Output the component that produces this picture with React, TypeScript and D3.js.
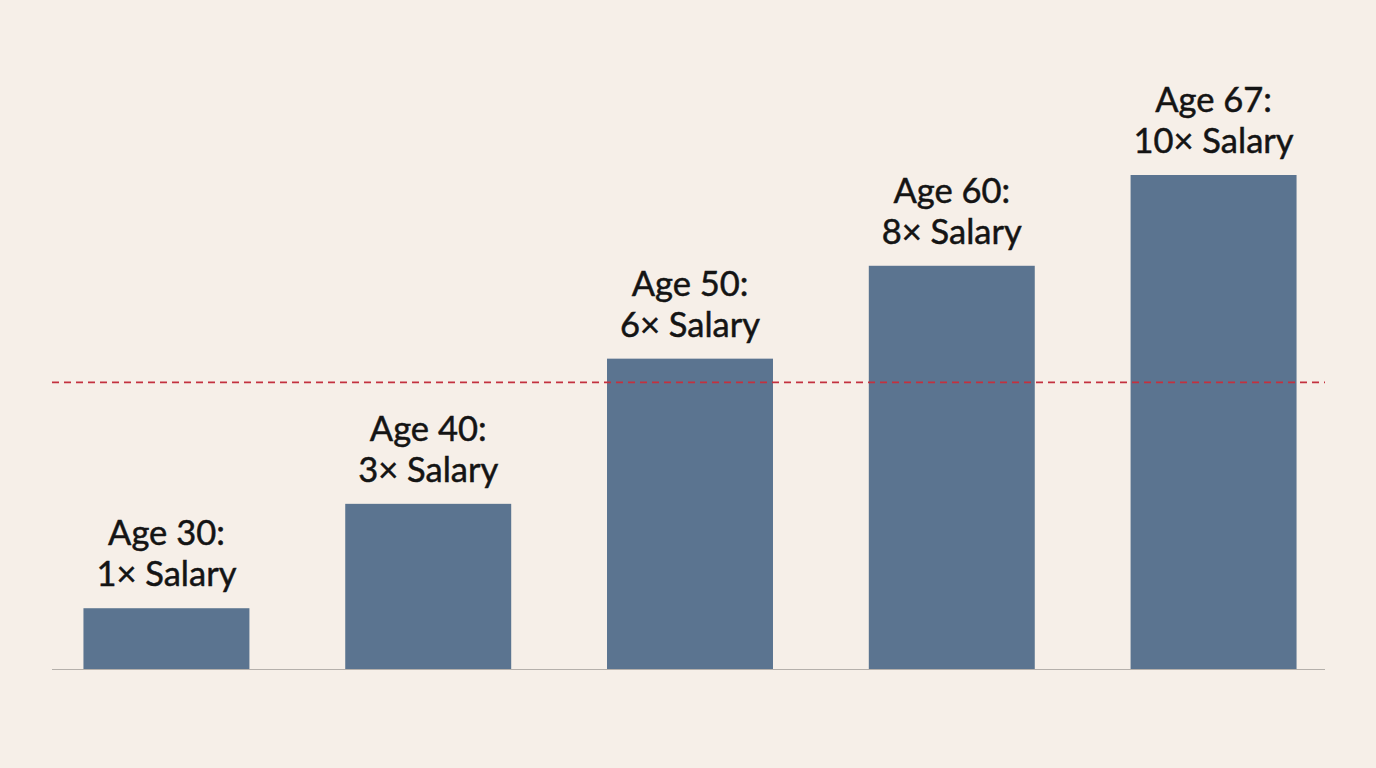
import { useEffect, useRef } from "react"
import * as d3 from "d3"

const ages = ["Age 30", "Age 40", "Age 50", "Age 60", "Age 67"]
const multiples = [1, 3, 6, 8, 10]
const targetLine = 5.5

const WIDTH = 1376
const HEIGHT = 768
const AXIS = { left: 52, right: 1325, base: 669, top: 175 }

export default function App() {
  const svgRef = useRef<SVGSVGElement>(null)

  useEffect(() => {
    document.body.style.margin = "0"
    if (!svgRef.current) return
    const svg = d3.select(svgRef.current)
    svg.selectAll("*").remove()

    svg.append("rect").attr("width", WIDTH).attr("height", HEIGHT).attr("fill", "#f6efe8")

    const x = d3
      .scaleBand<string>()
      .domain(ages)
      .range([AXIS.left + 2, AXIS.right + 1])
      .paddingInner(0.366)
      .paddingOuter(0.1125)

    // bars grow a bit faster than linear in the picture
    const y = d3.scalePow().exponent(0.91).domain([0, 10]).range([AXIS.base, AXIS.top])

    const rows = ages.map((a, i) => ({ age: a, m: multiples[i] }))

    svg
      .append("g")
      .selectAll("rect")
      .data(rows)
      .join("rect")
      .attr("x", (d) => x(d.age)!)
      .attr("y", (d) => y(d.m))
      .attr("width", x.bandwidth())
      .attr("height", (d) => AXIS.base - y(d.m))
      .attr("fill", "#5b7490")

    // baseline
    svg
      .append("line")
      .attr("x1", AXIS.left)
      .attr("x2", AXIS.right)
      .attr("y1", AXIS.base + 0.5)
      .attr("y2", AXIS.base + 0.5)
      .attr("stroke", "#b5b0ab")
      .attr("stroke-width", 1.2)

    // dashed target line
    svg
      .append("line")
      .attr("x1", AXIS.left)
      .attr("x2", AXIS.right)
      .attr("y1", y(targetLine))
      .attr("y2", y(targetLine))
      .attr("stroke", "#c3313f")
      .attr("stroke-width", 1.8)
      .attr("stroke-dasharray", "7,5")

    // labels
    const labels = svg
      .append("g")
      .selectAll("text")
      .data(rows)
      .join("text")
      .attr("text-anchor", "middle")
      .attr("font-family", "Lato, 'Noto Sans', sans-serif")
      .attr("font-size", "34.5px")
      .attr("fill", "#141414")
      .attr("stroke", "#141414")
      .attr("stroke-width", 0.5)
    labels
      .append("tspan")
      .attr("x", (d) => x(d.age)! + x.bandwidth() / 2)
      .attr("y", (d) => y(d.m) - 63)
      .text((d) => `${d.age}:`)
    labels
      .append("tspan")
      .attr("x", (d) => x(d.age)! + x.bandwidth() / 2)
      .attr("y", (d) => y(d.m) - 22)
      .text((d) => `${d.m}× Salary`)
  }, [])

  return <svg ref={svgRef} width={WIDTH} height={HEIGHT} style={{ display: "block" }} />
}
